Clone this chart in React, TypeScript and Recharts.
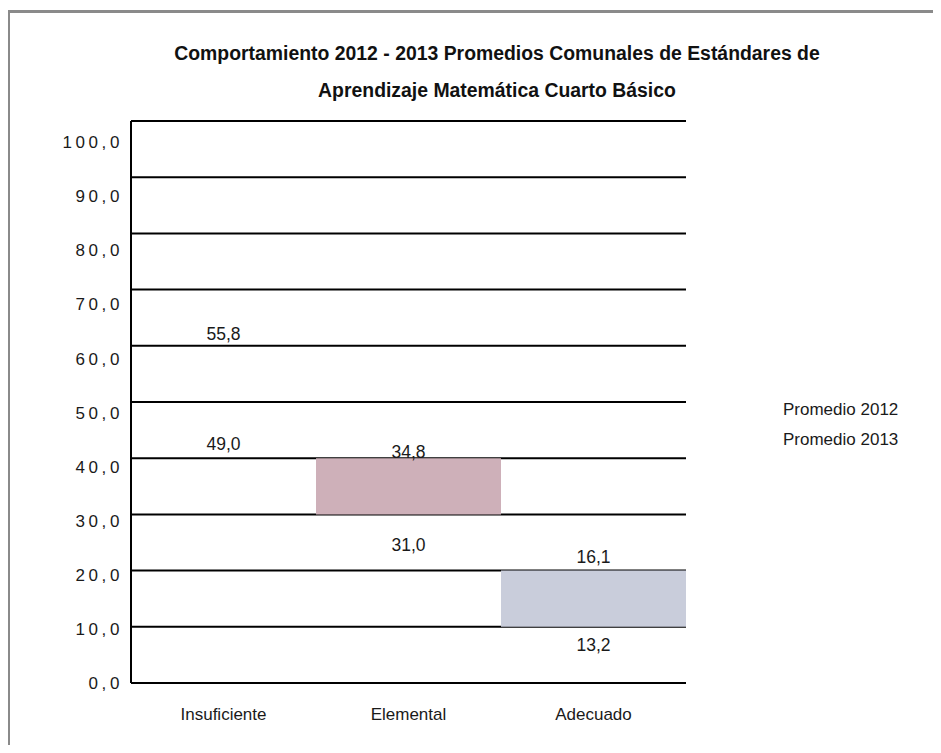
import { ComposedChart, Bar, Line, XAxis, YAxis, CartesianGrid, Legend, LabelList, Cell } from 'recharts'

// Promedios comunales por nivel de estándar, 2012 vs 2013
const categories = ['Insuficiente', 'Elemental', 'Adecuado']
const promedio2012 = [55.8, 31.0, 13.2]
const promedio2013 = [49.0, 34.8, 16.1]
// shaded bands as drawn in the original
const boxLow = [null, 30, 10]
const boxHigh = [null, 40, 20]
const boxColors = ['#ffffff', '#ceb0b9', '#c9cddb']
const yTicks = [0, 10, 20, 30, 40, 50, 60, 70, 80, 90, 100]

const FONT = '"Liberation Sans", Arial, sans-serif'
const PLOT_BOTTOM = 683

const data = categories.map((c, i) => ({
  category: c,
  p2012: promedio2012[i],
  p2013: promedio2013[i],
  box: boxLow[i] == null ? null : [boxLow[i], boxHigh[i]],
}))

const fmt = (v: number) => v.toFixed(1).replace('.', ',')

// tick labels in the original drift slightly off the gridlines toward the top
const YTick = ({ x, y, payload }: any) => {
  const shift = (PLOT_BOTTOM - y) * 0.038
  return (
    <text x={x} y={y + shift} dy="0.35em" textAnchor="end" fill="#1a1a1a" fontSize={17} fontFamily={FONT} letterSpacing={3.6}>
      {fmt(payload.value)}
    </text>
  )
}

const makeLabel = (own: number[], other: number[]) => (props: any) => {
  const { x, y, index } = props
  const above = own[index] >= other[index]
  return (
    <text x={x} y={above ? y - 36 : y + 36} dy="0.35em" textAnchor="middle" fill="#1a1a1a" fontSize={17.5} fontFamily={FONT}>
      {fmt(own[index])}
    </text>
  )
}

const LegendText = ({ payload }: any) => (
  <div style={{ fontFamily: FONT, fontSize: 17, color: '#1a1a1a', lineHeight: '30px' }}>
    {(payload || []).filter((p: any) => p.type !== 'none').map((p: any) => (
      <div key={p.value}>{p.value}</div>
    ))}
  </div>
)

export default function App() {
  return (
    <div style={{ position: 'relative', width: 941, height: 753, margin: -8, overflow: 'hidden', background: '#fff' }}>
      <div
        style={{
          position: 'absolute', left: 7, top: 10, width: 1000, height: 740,
          borderTop: '3px solid #8a8a8a', borderLeft: '3px solid #8a8a8a',
        }}
      />
      <div
        style={{
          position: 'absolute', left: 0, top: 35, width: 994, textAlign: 'center',
          fontFamily: FONT, fontWeight: 'bold', fontSize: 19.4, lineHeight: '37px', color: '#111',
        }}
      >
        <div>Comportamiento 2012 - 2013 Promedios Comunales de Estándares de</div>
        <div>Aprendizaje Matemática Cuarto Básico</div>
      </div>
      <ComposedChart
        width={941}
        height={753}
        data={data}
        margin={{ top: 121, right: 255, bottom: 30, left: 0 }}
        barCategoryGap={0}
        style={{ position: 'absolute', left: 0, top: 0 }}
      >
        <XAxis
          dataKey="category"
          height={40}
          axisLine={{ stroke: '#000', strokeWidth: 2 }}
          tickLine={false}
          tickSize={0}
          tickMargin={25}
          tick={{ fill: '#1a1a1a', fontSize: 17, fontFamily: FONT }}
        />
        <YAxis
          width={131}
          domain={[0, 100]}
          ticks={yTicks}
          axisLine={{ stroke: '#000', strokeWidth: 2 }}
          tickLine={false}
          tickSize={0}
          tickMargin={8}
          tick={<YTick />}
        />
        <Bar dataKey="box" isAnimationActive={false} legendType="none">
          {data.map((d, i) => (
            <Cell key={d.category} fill={boxColors[i]} />
          ))}
        </Bar>
        <CartesianGrid vertical={false} stroke="#000" strokeWidth={2} />
        <Line dataKey="p2012" name="Promedio 2012" stroke="none" dot={false} activeDot={false} isAnimationActive={false}>
          <LabelList dataKey="p2012" content={makeLabel(promedio2012, promedio2013)} />
        </Line>
        <Line dataKey="p2013" name="Promedio 2013" stroke="none" dot={false} activeDot={false} isAnimationActive={false}>
          <LabelList dataKey="p2013" content={makeLabel(promedio2013, promedio2012)} />
        </Line>
        <Legend
          layout="vertical"
          align="center"
          verticalAlign="middle"
          content={<LegendText />}
          wrapperStyle={{ left: 783, top: 395, width: 150 }}
        />
      </ComposedChart>
    </div>
  )
}
